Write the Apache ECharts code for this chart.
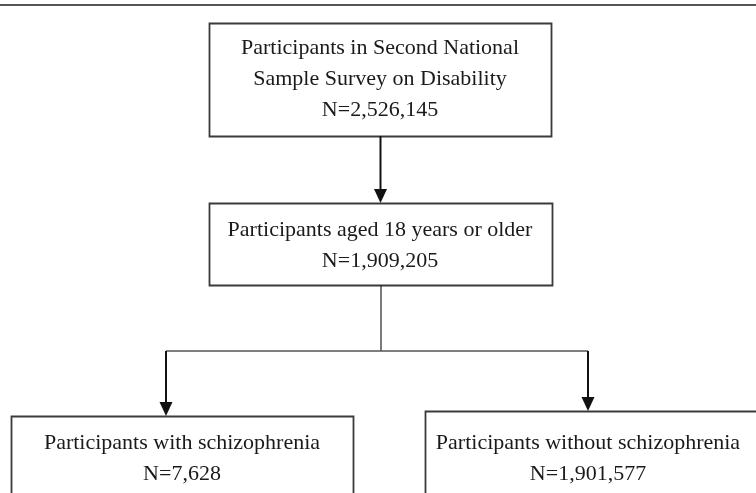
<!DOCTYPE html>
<html>
<head>
<meta charset="utf-8">
<script src="https://cdn.jsdelivr.net/npm/echarts@6/dist/echarts.min.js"></script>
<style>html,body{margin:0;padding:0;background:#fff;}#c{width:756px;height:493px;}</style>
</head>
<body>
<div id="c"></div>
<script>
// ---- data ----
const stageLabels = [
  ["Participants in Second National", "Sample Survey on Disability"],
  ["Participants aged 18 years or older"],
  ["Participants with schizophrenia"],
  ["Participants without schizophrenia"]
];
const stageCounts = [2526145, 1909205, 7628, 1901577];

// ---- layout (pixels) ----
const boxes = [
  {x: 209, y: 23, w: 342, h: 113},
  {x: 209, y: 203, w: 343, h: 82},
  {x: 11, y: 416, w: 342, h: 100},
  {x: 425, y: 411, w: 345, h: 100}
];
const textCenterX = [380, 380, 182, 588];
const textTopY = [48, 230, 443, 443];
const lineGap = 31;
const FONT = '22px "Liberation Serif", "Times New Roman", serif';
const elbowY = 351;
const leftX = 166, rightX = 588, midX = 381;

const fmt = n => 'N=' + n.toLocaleString('en-US');
const g = [];
// top rule
g.push({type: 'line', shape: {x1: 0, y1: 5, x2: 756, y2: 5}, style: {stroke: '#555', lineWidth: 2}});
boxes.forEach((b, i) => {
  g.push({type: 'rect', shape: {x: b.x + 0.5, y: b.y + 0.5, width: b.w, height: b.h},
    style: {fill: '#fff', stroke: '#3a3a3a', lineWidth: 1.8}});
  const lines = stageLabels[i].concat([fmt(stageCounts[i])]);
  lines.forEach((t, j) => {
    g.push({type: 'text', style: {text: t, x: textCenterX[i], y: textTopY[i] + j * lineGap,
      textAlign: 'center', textVerticalAlign: 'middle', font: FONT, fill: '#1a1a1a'}});
  });
});
function arrow(x, y1, y2) {
  g.push({type: 'line', shape: {x1: x, y1: y1, x2: x, y2: y2 - 12}, style: {stroke: '#111', lineWidth: 2}});
  g.push({type: 'polygon', shape: {points: [[x - 6.5, y2 - 14], [x + 6.5, y2 - 14], [x, y2]]}, style: {fill: '#111'}});
}
// box1 -> box2
arrow(380.5, boxes[0].y + boxes[0].h, boxes[1].y);
// box2 -> elbow
g.push({type: 'line', shape: {x1: midX, y1: boxes[1].y + boxes[1].h, x2: midX, y2: elbowY}, style: {stroke: '#222', lineWidth: 1.2}});
g.push({type: 'line', shape: {x1: leftX, y1: elbowY, x2: rightX, y2: elbowY}, style: {stroke: '#555', lineWidth: 1.4}});
arrow(leftX, elbowY, boxes[2].y);
arrow(rightX, elbowY, boxes[3].y);

const chart = echarts.init(document.getElementById('c'), null, {renderer: 'canvas'});
chart.setOption({animation: false, backgroundColor: '#fff', graphic: {elements: g}});
</script>
</body>
</html>
